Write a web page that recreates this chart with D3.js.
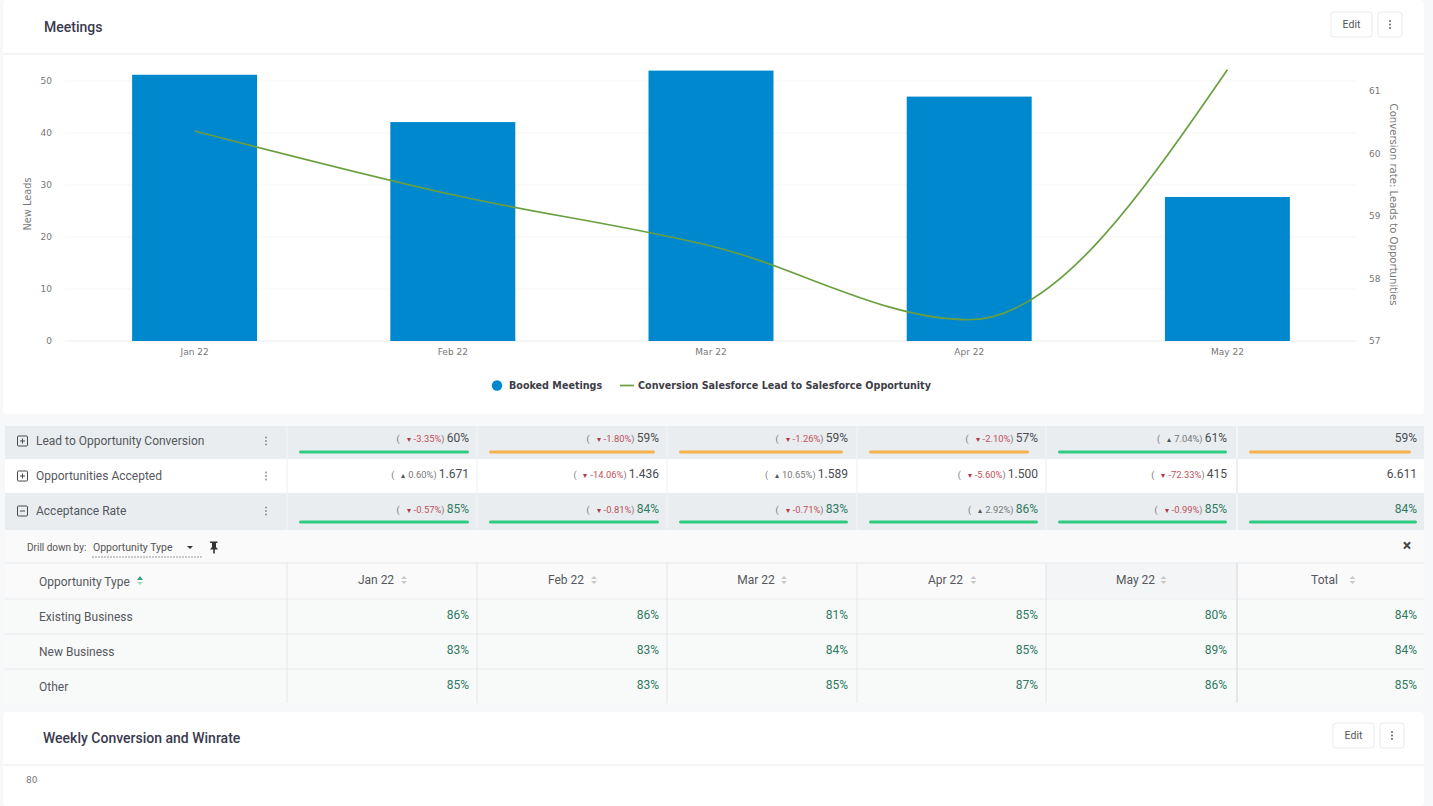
<!DOCTYPE html>
<html>
<head>
<meta charset="utf-8">
<script src="https://cdn.jsdelivr.net/npm/d3@7"></script>
<style>
  html, body { margin: 0; padding: 0; background: #f7f8f9; overflow: hidden; }
  svg { display: block; font-family: Roboto, sans-serif; }
  .tick text { font-family: "DejaVu Sans", sans-serif; font-size: 9px; fill: #777; }
</style>
</head>
<body>
<div id="my_dataviz"></div>
<script>
// chart data
var months = ["Jan 22", "Feb 22", "Mar 22", "Apr 22", "May 22"];
var bookedMeetings = [51.2, 42.1, 52, 47, 27.7];
var conversionRate = [60.36, 59.34, 58.52, 57.34, 61.34];
var leftTicks = [0, 10, 20, 30, 40, 50];
var rightTicks = [57, 58, 59, 60, 61];

// table data, last column is the total
var tableColumns = ["Jan 22", "Feb 22", "Mar 22", "Apr 22", "May 22", "Total"];
var conversionValues = ["60%", "59%", "59%", "57%", "61%", "59%"];
var conversionDeltas = ["-3.35%", "-1.80%", "-1.26%", "-2.10%", "7.04%", null];
var conversionBars = [1, 0.976, 0.97, 0.947, 1, 0.964];
var acceptedValues = ["1.671", "1.436", "1.589", "1.500", "415", "6.611"];
var acceptedDeltas = ["0.60%", "-14.06%", "10.65%", "-5.60%", "-72.33%", null];
var rateValues = ["85%", "84%", "83%", "86%", "85%", "84%"];
var rateDeltas = ["-0.57%", "-0.81%", "-0.71%", "2.92%", "-0.99%", null];
var rateBars = [1, 1, 1, 1, 1, 1];
var drillTypes = ["Existing Business", "New Business", "Other"];
var existingBusiness = ["86%", "86%", "81%", "85%", "80%", "84%"];
var newBusiness = ["83%", "83%", "84%", "85%", "89%", "84%"];
var otherBusiness = ["85%", "83%", "85%", "87%", "86%", "85%"];

var width = 1433, height = 806;
var svg = d3.select("#my_dataviz").append("svg")
    .attr("width", width)
    .attr("height", height);

// cards
function card(y, h) {
    svg.append("rect").attr("x", 3).attr("y", y).attr("width", 1421).attr("height", h)
        .attr("rx", 4).attr("fill", "#fff");
}
function cardHeader(title, titleX, titleY, lineY, editX, editY) {
    svg.append("line").attr("x1", 3).attr("x2", 1424).attr("y1", lineY).attr("y2", lineY)
        .attr("stroke", "#ececee");
    svg.append("text").attr("x", titleX).attr("y", titleY).text(title)
        .attr("font-size", 14).attr("font-weight", 500).attr("fill", "#3a3a4e");
    svg.append("rect").attr("x", editX).attr("y", editY).attr("width", 41).attr("height", 25)
        .attr("rx", 3).attr("fill", "#fff").attr("stroke", "#e9eaec");
    svg.append("text").attr("x", editX + 20.5).attr("y", editY + 16).text("Edit")
        .attr("text-anchor", "middle").attr("font-size", 10.5).attr("fill", "#555");
    svg.append("rect").attr("x", editX + 47).attr("y", editY).attr("width", 24).attr("height", 25)
        .attr("rx", 3).attr("fill", "#fff").attr("stroke", "#e9eaec");
    dots(editX + 59, editY + 12.5, "#555");
}
function dots(x, y, color) {
    svg.selectAll(null).data([-3.5, 0, 3.5]).enter().append("circle")
        .attr("cx", x).attr("cy", function(d) { return y + d; })
        .attr("r", 0.9).attr("fill", color);
}
card(0, 414);
card(712, 94);
cardHeader("Meetings", 44, 32, 54, 1331, 12);
cardHeader("Weekly Conversion and Winrate", 43, 743, 765, 1333, 723);
svg.append("text").attr("x", 26).attr("y", 783).text("80")
    .attr("font-family", "DejaVu Sans").attr("font-size", 9).attr("fill", "#777");

// scales
var x = d3.scaleBand().domain(months).range([65.5, 1356.5]).paddingInner(0.516).paddingOuter(0.258);
var yLeft = d3.scaleLinear().domain([0, 50]).range([341, 81]);
var yRight = d3.scaleLinear().domain([57, 61]).range([341, 91]);

// grid lines
svg.selectAll(".grid").data(leftTicks).enter().append("line")
    .attr("x1", 65).attr("x2", 1356)
    .attr("y1", function(d) { return yLeft(d); })
    .attr("y2", function(d) { return yLeft(d); })
    .attr("stroke", function(d) { return d === 0 ? "#e8eaec" : "#f6f6f7"; });

// axes
var leftAxis = svg.append("g").attr("transform", "translate(59,0)")
    .call(d3.axisLeft(yLeft).tickValues(leftTicks).tickSize(0).tickPadding(7));
leftAxis.select(".domain").remove();
var rightAxis = svg.append("g").attr("transform", "translate(1362,0)")
    .call(d3.axisRight(yRight).tickValues(rightTicks).tickFormat(d3.format("d")).tickSize(0).tickPadding(7));
rightAxis.select(".domain").remove();
var bottomAxis = svg.append("g").attr("transform", "translate(0,347)")
    .call(d3.axisBottom(x).tickSize(0).tickPadding(2));
bottomAxis.select(".domain").remove();

svg.append("text").attr("transform", "translate(31,204) rotate(-90)").text("New Leads")
    .attr("text-anchor", "middle").attr("font-family", "DejaVu Sans").attr("font-size", 9.8).attr("fill", "#777");
svg.append("text").attr("transform", "translate(1390,204.5) rotate(90)")
    .text("Conversion rate: Leads to Opportunities")
    .attr("text-anchor", "middle").attr("font-family", "DejaVu Sans").attr("font-size", 10.1).attr("fill", "#777");

// bars
svg.selectAll(".bar").data(months).enter().append("rect")
    .attr("class", "bar")
    .attr("x", function(d) { return x(d); })
    .attr("width", x.bandwidth())
    .attr("y", function(d, i) { return yLeft(bookedMeetings[i]); })
    .attr("height", function(d, i) { return 341 - yLeft(bookedMeetings[i]); })
    .attr("fill", "#0088ce");

// conversion line
var line = d3.line()
    .x(function(d, i) { return x(months[i]) + x.bandwidth() / 2; })
    .y(function(d) { return yRight(d); })
    .curve(d3.curveMonotoneX);
svg.append("path").datum(conversionRate)
    .attr("d", line)
    .attr("fill", "none")
    .attr("stroke", "#6a9f40")
    .attr("stroke-width", 1.7);

// legend
var legendFont = "'DejaVu Sans', sans-serif";
svg.append("circle").attr("cx", 497).attr("cy", 385.5).attr("r", 5.2).attr("fill", "#0088ce");
svg.append("text").attr("x", 509).attr("y", 389).text("Booked Meetings")
    .attr("font-family", legendFont).attr("font-size", 9.6).attr("font-weight", 700).attr("fill", "#3d3d47");
svg.append("line").attr("x1", 620).attr("x2", 634).attr("y1", 385.5).attr("y2", 385.5)
    .attr("stroke", "#6a9f40").attr("stroke-width", 1.7);
svg.append("text").attr("x", 638).attr("y", 389).text("Conversion Salesforce Lead to Salesforce Opportunity")
    .attr("font-family", legendFont).attr("font-size", 9.6).attr("font-weight", 700).attr("fill", "#3d3d47");

// table
var colEdges = [287, 477, 667, 857, 1046, 1237, 1424];
var colRight = [469, 659, 848, 1038, 1227, 1417];

function rowBg(y, h, color) {
    svg.append("rect").attr("x", 5).attr("y", y).attr("width", 1419).attr("height", h).attr("fill", color);
}
function colLines(y1, y2, color) {
    svg.selectAll(null).data(colEdges.slice(0, 6)).enter().append("line")
        .attr("x1", function(d) { return d; }).attr("x2", function(d) { return d; })
        .attr("y1", y1).attr("y2", y2)
        .attr("stroke", color)
        .attr("stroke-width", function(d) { return d === 1237 ? 2 : 1; });
}
function metricRow(name, y, h, bg, values, deltas, bars, valueColor, expanded, labelY, valueY, barY) {
    rowBg(y, h, bg);
    colLines(y, y + h, bg === "#fff" ? "#eceef0" : "#f3f5f6");
    var iconY = labelY - 4;
    svg.append("rect").attr("x", 17.5).attr("y", iconY - 5).attr("width", 10).attr("height", 10)
        .attr("rx", 1).attr("fill", "none").attr("stroke", "#4a4a4a");
    svg.append("line").attr("x1", 20).attr("x2", 25).attr("y1", iconY).attr("y2", iconY).attr("stroke", "#4a4a4a");
    if (!expanded) {
        svg.append("line").attr("x1", 22.5).attr("x2", 22.5).attr("y1", iconY - 2.5).attr("y2", iconY + 2.5).attr("stroke", "#4a4a4a");
    }
    svg.append("text").attr("x", 36).attr("y", labelY).text(name)
        .attr("font-size", 12).attr("fill", "#55585d");
    dots(266, iconY, "#8a8a8a");

    var cells = svg.selectAll(null).data(values).enter().append("text")
        .attr("x", function(d, i) { return colRight[i]; })
        .attr("y", valueY)
        .attr("text-anchor", "end");
    cells.each(function(d, i) {
        var t = d3.select(this);
        var delta = deltas[i];
        if (delta !== null) {
            var down = delta.charAt(0) === "-";
            t.append("tspan").attr("font-size", 9).attr("fill", "#777").text("(");
            t.append("tspan").attr("dx", 7).attr("font-size", 8).attr("fill", down ? "#b5384a" : "#555").text(down ? "▾" : "▴");
            t.append("tspan").attr("dx", 3).attr("font-size", 9.4).attr("fill", down ? "#c0505c" : "#777").text(delta);
            t.append("tspan").attr("font-size", 9).attr("fill", "#777").text(") ");
        }
        t.append("tspan").attr("font-size", 12).attr("fill", valueColor).text(d);
    });

    if (bars) {
        svg.selectAll(null).data(bars).enter().append("line")
            .attr("x1", function(d, i) { return colEdges[i] + 13.5; })
            .attr("x2", function(d, i) {
                var barScale = d3.scaleLinear().domain([0, 1]).range([colEdges[i] + 12, colRight[i]]);
                return barScale(d) - 1.5;
            })
            .attr("y1", barY).attr("y2", barY)
            .attr("stroke", function(d) { return d === 1 ? "#2ecc80" : "#f5b14c"; })
            .attr("stroke-width", 3)
            .attr("stroke-linecap", "round");
    }
}
metricRow("Lead to Opportunity Conversion", 426, 33, "#e9edf0", conversionValues, conversionDeltas, conversionBars, "#4a4d52", false, 445, 442, 452);
metricRow("Opportunities Accepted", 459, 34, "#fff", acceptedValues, acceptedDeltas, null, "#4a4c50", false, 480, 478, null);
metricRow("Acceptance Rate", 493, 37, "#e9edf0", rateValues, rateDeltas, rateBars, "#2f7a5f", true, 515, 513, 522);

// drill down bar
rowBg(530, 33, "#fafafa");
svg.append("text").attr("x", 27).attr("y", 551).text("Drill down by:")
    .attr("font-size", 10).attr("fill", "#555");
svg.append("text").attr("x", 93).attr("y", 551).text("Opportunity Type")
    .attr("font-size", 10.5).attr("fill", "#555");
svg.append("line").attr("x1", 92).attr("x2", 203).attr("y1", 557).attr("y2", 557)
    .attr("stroke", "#999").attr("stroke-dasharray", "2,1");
svg.append("path").attr("d", "M187,546h6l-3,3z").attr("fill", "#333");
// pin icon
svg.append("path").attr("d", "M209.5,541.5h8v1.5h-1.5v4l2,2.5h-3.2v4h-1.6v-4h-3.2l2,-2.5v-4h-1.5z").attr("fill", "#333");
svg.append("text").attr("x", 1407).attr("y", 551).text("×")
    .attr("text-anchor", "middle").attr("font-size", 16).attr("font-weight", 700).attr("fill", "#444");

// drill down table
rowBg(563, 36, "#fafafa");
svg.append("rect").attr("x", 1046).attr("y", 563).attr("width", 191).attr("height", 36).attr("fill", "#f4f5f6");
rowBg(599, 104, "#f8f9f9");
svg.selectAll(null).data([563, 599, 634, 669]).enter().append("line")
    .attr("x1", 5).attr("x2", 1424)
    .attr("y1", function(d) { return d; }).attr("y2", function(d) { return d; })
    .attr("stroke", "#eeeff1").attr("stroke-width", 1.5);
colLines(563, 703, "#e4e6e8");
svg.append("text").attr("x", 39).attr("y", 586).text("Opportunity Type")
    .attr("font-size", 12).attr("fill", "#55585d");
svg.append("path").attr("d", "M137,580l3,-4l3,4z").attr("fill", "#35a47c");
svg.append("path").attr("d", "M137,582l3,3l3,-3z").attr("fill", "#9fd8c2");

svg.selectAll(null).data(tableColumns).enter().append("text")
    .attr("x", function(d, i) { return (colEdges[i] + colEdges[i + 1]) / 2 - 6; })
    .attr("y", 584)
    .attr("text-anchor", "middle")
    .attr("font-size", 12).attr("fill", "#55585d")
    .text(function(d) { return d; });
svg.selectAll(null).data(tableColumns).enter().append("path")
    .attr("d", function(d, i) {
        var cx = (colEdges[i] + colEdges[i + 1]) / 2 + 22;
        return "M" + (cx - 3) + ",579l3,-3l3,3zM" + (cx - 3) + ",581l3,3l3,-3z";
    })
    .attr("fill", "#c6c9cc");

[existingBusiness, newBusiness, otherBusiness].forEach(function(values, r) {
    var rowY = 599 + r * 35;
    svg.append("text").attr("x", 39).attr("y", rowY + 22).text(drillTypes[r])
        .attr("font-size", 12).attr("fill", "#55585d");
    svg.selectAll(null).data(values).enter().append("text")
        .attr("x", function(d, i) { return colRight[i]; })
        .attr("y", rowY + 20)
        .attr("text-anchor", "end")
        .attr("font-size", 12).attr("fill", "#2f7a5f")
        .text(function(d) { return d; });
});
</script>
</body>
</html>
